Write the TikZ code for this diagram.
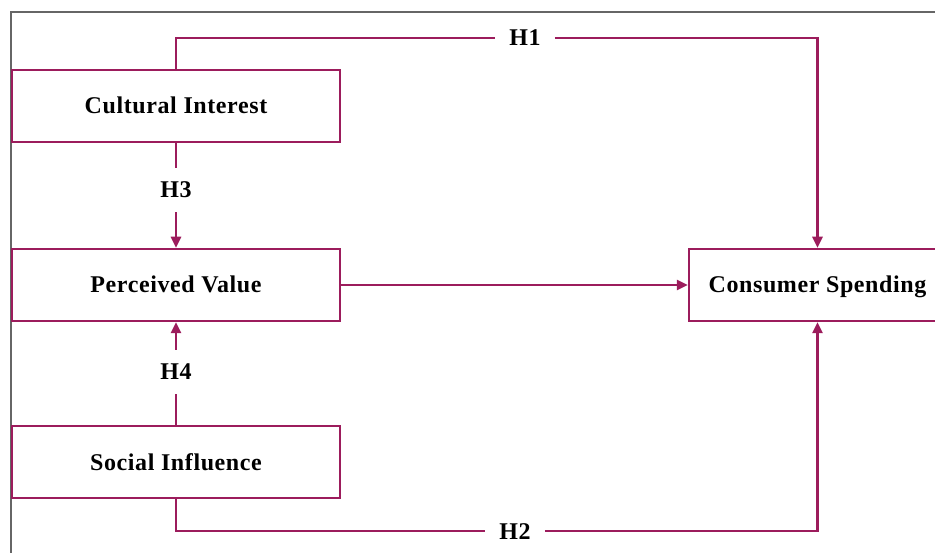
\documentclass[tikz,border=0pt]{standalone}
\usepackage{fontspec}
\setmainfont{Liberation Serif}
\newfontfamily\labfont[LetterSpace=2.5]{Liberation Serif}
\usetikzlibrary{arrows.meta}
\definecolor{linec}{HTML}{9C1C5C}
\definecolor{framec}{HTML}{666666}
\begin{document}
\begin{tikzpicture}[x=1pt,y=-1pt,
  box/.style={draw=linec,line width=2.5pt,minimum height=72pt,inner sep=0pt,text height=16pt,text depth=0pt,font=\labfont\fontsize{24}{28}\selectfont\bfseries},
  hlab/.style={inner xsep=14pt,inner ysep=14pt,text height=16pt,text depth=0pt,font=\labfont\fontsize{24}{28}\selectfont\bfseries},
  conn/.style={draw=linec,line width=2.5pt},
  arr/.style={conn,-{Triangle[length=11pt,width=10pt]}}]
\useasboundingbox (0,0) rectangle (935,553);
\draw[framec,line width=1.2pt] (11,553) -- (11,12) -- (935,12);
\node[box,minimum width=328pt] (ci) at (176,106) {Cultural Interest};
\node[box,minimum width=328pt] (pv) at (176,285) {Perceived Value};
\node[box,minimum width=328pt] (si) at (176,462) {Social Influence};
\node[box,minimum width=257pt] (cs) at (817.5,285) {Consumer Spending};
\node[hlab] (h1) at (525,38) {H1};
\node[hlab] (h2) at (515,531) {H2};
\node[hlab] (h3) at (176,190) {H3};
\node[hlab] (h4) at (176,372) {H4};
\draw[conn] (ci.north) |- (h1.west);
\draw[arr] (h1.east) -| (cs.north);
\draw[conn] (si.south) |- (h2.west);
\draw[arr] (h2.east) -| (cs.south);
\draw[conn] (ci.south) -- (h3.north);
\draw[arr] (h3.south) -- (pv.north);
\draw[conn] (si.north) -- (h4.south);
\draw[arr] (h4.north) -- (pv.south);
\draw[arr] (pv.east) -- (cs.west);
\end{tikzpicture}
\end{document}
